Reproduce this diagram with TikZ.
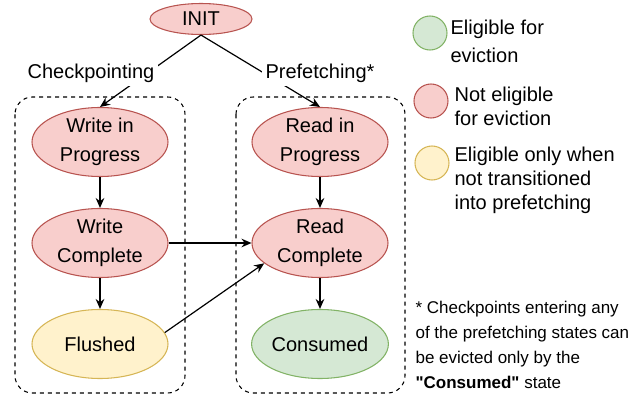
\documentclass[tikz,border=0pt]{standalone}
\usepackage{fontspec}
\setmainfont{Liberation Sans}[Ligatures=TeXOff]
\usepackage{tikz}
\usetikzlibrary{positioning}
\usetikzlibrary{shapes.geometric}
\usetikzlibrary{arrows.meta}
\usepackage{xcolor}
\definecolor{redfill}{HTML}{F8CECC}
\definecolor{redline}{HTML}{B85450}
\definecolor{greenfill}{HTML}{D5E8D4}
\definecolor{greenline}{HTML}{82B366}
\definecolor{yellowfill}{HTML}{FFF2CC}
\definecolor{yellowline}{HTML}{D6B656}
\tikzset{
  state/.style={ellipse, draw, line width=0.8pt, minimum width=102pt, minimum height=51.75pt,
    inner sep=0pt, align=center, font=\fontsize{15}{21.75}\selectfont},
  busy/.style={state, fill=redfill, draw=redline},
  free/.style={state, fill=greenfill, draw=greenline},
  maybe/.style={state, fill=yellowfill, draw=yellowline},
  key/.style={circle, line width=0.8pt, minimum size=25.5pt, inner sep=0pt},
  keytext/.style={anchor=west, align=left, inner sep=0pt, font=\fontsize{15}{18}\selectfont},
  group/.style={draw, dashed, line width=0.8pt, rounded corners=13pt},
}
\begin{document}
\begin{tikzpicture}[x=0.75pt,y=-0.75pt,node distance=75.75pt and 165pt,on grid,
    >={Stealth[length=7.5pt,width=6.5pt]},line width=0.9pt]
   \useasboundingbox (0,0) rectangle (637,396);
   % groups
   \draw[group] (15,97) rectangle (185,393);
   \draw[group] (236,97) rectangle (405,393);
   % states
   \node[busy, minimum width=76.5pt, minimum height=23.25pt] (init) at (201,19) {INIT};
   \node[busy] (wip) at (100,142) {Write in\\Progress};
   \node[busy] (wc) [below=of wip] {Write\\Complete};
   \node[maybe] (fl) [below=of wc] {Flushed};
   \node[busy] (rip) [right=of wip] {Read in\\Progress};
   \node[busy] (rc) [below=of rip] {Read\\Complete};
   \node[free] (co) [below=of rc] {Consumed};
    \path[->]
    (init.south) edge (wip.north)
    (init.south) edge (rip.north)
    (wip) edge (wc)
    (wc) edge (fl)
    (rip) edge (rc)
    (rc) edge (co)
    (wc.east) edge (rc.west)
    (fl.10) edge (rc.200);
   \node[fill=white, inner sep=3pt, font=\fontsize{15}{18}\selectfont] (ckpt) at (91,73) {Checkpointing};
   \node[fill=white, inner sep=3pt, font=\fontsize{15}{18}\selectfont] (pref) at (320,73) {Prefetching*};
   % legend
   \node[key, fill=greenfill, draw=greenline] (kfree) at (430,33) {};
   \node[keytext, font=\fontsize{15}{21}\selectfont] (tfree) at (450,41) {Eligible for\\eviction};
   \node[key, fill=redfill, draw=redline] (kbusy) at (431,101) {};
   \node[keytext] (tbusy) at (454,106) {Not eligible\\for eviction};
   \node[key, fill=yellowfill, draw=yellowline] (kmaybe) at (432,163) {};
   \node[keytext] (tmaybe) at (454,180) {Eligible only when\\not transitioned\\into prefetching};
   % note
   \node[keytext, font=\fontsize{12.75}{18.75}\selectfont] (note) at (415,345)
     {* Checkpoints entering any\\of the prefetching states can\\be evicted only by the\\\textbf{"Consumed"} state};
\end{tikzpicture}
\end{document}
